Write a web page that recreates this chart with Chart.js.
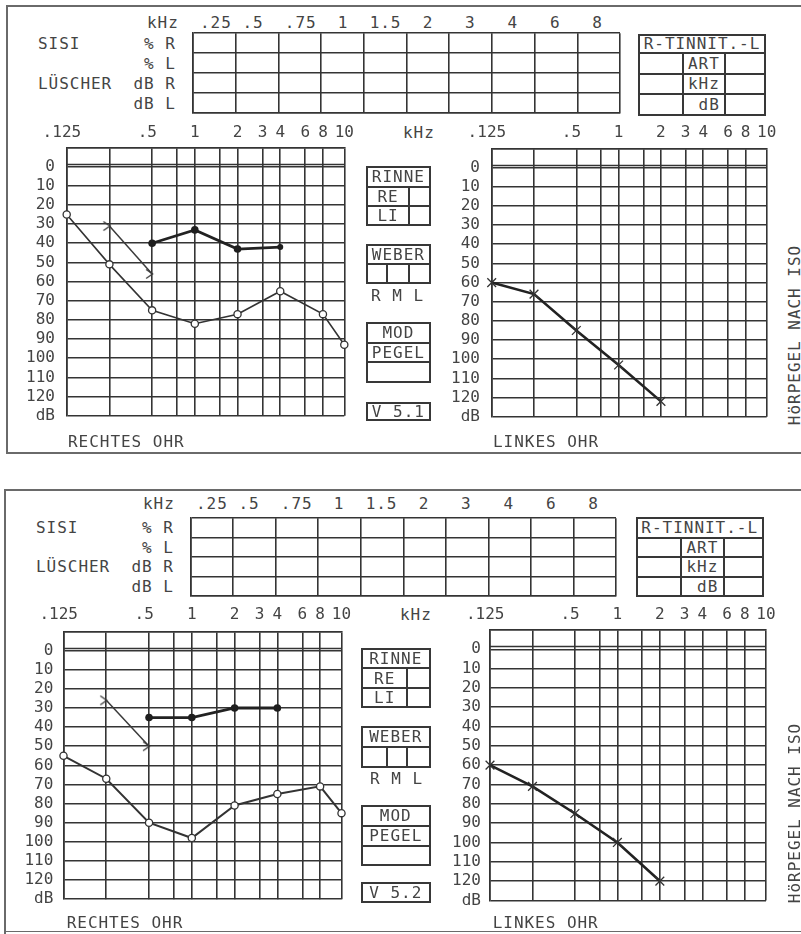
<!DOCTYPE html>
<html>
<head>
<meta charset="utf-8">
<title>Audiogramm</title>
<script src="https://cdn.jsdelivr.net/npm/chart.js@4.4.1/dist/chart.umd.min.js"></script>
<style>
  html, body { margin: 0; padding: 0; background: #fff; }
  #sheet { position: relative; width: 801px; height: 934px; overflow: hidden; background: #fff; }
  #sheet canvas { position: absolute; }
  .txt { position: absolute; font-family: "DejaVu Sans Mono", monospace; font-size: 16px; line-height: 16px;
         letter-spacing: 0.97px; color: #444; white-space: pre; }
  .ln { position: absolute; background: #383838; }
  .frame { position: absolute; background: #6a6a6a; }
</style>
</head>
<body>
<div id="sheet"></div>
<script>
// ---------- audiogram grid ----------
const gridFreqs  = [0.125, 0.25, 0.5, 0.75, 1, 1.5, 2, 3, 4, 6, 8, 10];
const gridLabels = ['.125 ', '', '.5 ', '', '1', '', '2', '3', '4', '6', '8', '10'];
const dbTicks    = [-10, 0, 10, 20, 30, 40, 50, 60, 70, 80, 90, 100, 110, 120, 130];

// ---------- measured frequencies (kHz) ----------
const airFreqs    = [0.125, 0.25, 0.5, 1, 2, 4, 8, 10];
const boneFreqs   = [0.25, 0.5];
const maskedFreqs = [0.5, 1, 2, 4];
const leftFreqs   = [0.125, 0.25, 0.5, 1, 2];

// ---------- first sheet (V 5.1), hearing level in dB ----------
const rightAir1    = [25, 51, 75, 82, 77, 65, 77, 93];
const rightBone1   = [31, 56];
const rightMasked1 = [40, 33, 43, 42];
const leftAir1     = [60, 66, 85, 103, 122];

// ---------- second sheet (V 5.2), hearing level in dB ----------
const rightAir2    = [55, 67, 90, 98, 81, 75, 71, 85];
const rightBone2   = [26, 50];
const rightMasked2 = [35, 35, 30, 30];
const leftAir2     = [60, 71, 85, 100, 120];

// ---------- form texts ----------
const sisiHeader = 'kHz  .25 .5  .75  1  1.5  2   3   4   6   8';
const sisiRows   = ['SISI      % R', '          % L', 'LÜSCHER  dB R', '         dB L'];

const INK = '#343434';
const sheet = document.getElementById('sheet');
Chart.defaults.font.family = '"DejaVu Sans Mono", monospace';

// ---------- small drawing helpers for the printed form ----------
function text(str, x, y, align, extra) {
  const d = document.createElement('div');
  d.className = 'txt';
  d.textContent = str;
  d.style.left = x + 'px';
  d.style.top = (y - 7.7) + 'px';
  if (align === 'center') d.style.transform = 'translateX(-50%)';
  if (extra) Object.assign(d.style, extra);
  sheet.appendChild(d);
  return d;
}
function hline(x1, x2, y, cls, w) {
  w = w || 2;
  const d = document.createElement('div');
  d.className = cls || 'ln';
  d.style.left = (x1 - w / 2) + 'px'; d.style.top = (y - w / 2) + 'px';
  d.style.width = (x2 - x1 + w) + 'px'; d.style.height = w + 'px';
  sheet.appendChild(d);
}
function vline(x, y1, y2, cls, w) {
  w = w || 2;
  const d = document.createElement('div');
  d.className = cls || 'ln';
  d.style.left = (x - w / 2) + 'px'; d.style.top = (y1 - w / 2) + 'px';
  d.style.width = w + 'px'; d.style.height = (y2 - y1 + w) + 'px';
  sheet.appendChild(d);
}
function rect(x1, y1, x2, y2) {
  hline(x1, x2, y1); hline(x1, x2, y2); vline(x1, y1, y2); vline(x2, y1, y2);
}

// octave position counted from 125 Hz; the 10 kHz column closes the form half an octave after 8 kHz
function octavePos(f) { return f >= 10 ? 6.5 : Math.log2(f / 0.125); }
function pts(freqs, vals) { return freqs.map((f, i) => ({ x: octavePos(f), y: vals[i] })); }

// bone-conduction marker ">" : glyph sits left of the point, its tip on the frequency line
function chevron() {
  const c = document.createElement('canvas');
  c.width = 16; c.height = 12;
  const g = c.getContext('2d');
  g.strokeStyle = '#3a3a3a'; g.lineWidth = 1.3;
  g.beginPath(); g.moveTo(2, 1.5); g.lineTo(8.5, 6); g.lineTo(2, 10.5); g.stroke();
  return c;
}
const boneMark = chevron();

// double rule between the upper band and the 0 dB line
const zeroRule = {
  id: 'zeroRule',
  beforeDatasetsDraw(chart) {
    const { ctx, chartArea: a, scales: { y } } = chart;
    const py = Math.round(y.getPixelForValue(0)) - 3;
    ctx.save();
    ctx.strokeStyle = INK; ctx.lineWidth = 1.6;
    ctx.beginPath(); ctx.moveTo(a.left, py + 0.5); ctx.lineTo(a.right, py + 0.5); ctx.stroke();
    ctx.restore();
  }
};

function placeCanvas(L, T, R, B, padL, padT, padR, padB) {
  const c = document.createElement('canvas');
  const left = Math.floor(L) - padL, top = Math.floor(T) - padT;
  c.width = Math.ceil(R) + padR - left;
  c.height = Math.ceil(B) + padB - top;
  c.style.left = left + 'px'; c.style.top = top + 'px';
  sheet.appendChild(c);
  return { c, left, top };
}

// one ear of the audiogram
function audiogram(area, labelY, yLabelRight, datasets) {
  const { c, left, top } = placeCanvas(area.L, area.T, area.R, area.B, 62, 32, 18, 16);
  const yW = area.L - left, xH = area.T - top;
  const padR = c.width - (area.R - left), padB = c.height - (area.B - top);
  const font = { family: '"DejaVu Sans Mono", monospace', size: 16 };
  return new Chart(c, {
    type: 'scatter',
    data: { datasets },
    options: {
      responsive: false, animation: false, devicePixelRatio: 1, events: [],
      layout: { padding: { left: 0, top: 0, right: padR, bottom: padB } },
      plugins: { legend: { display: false }, tooltip: { enabled: false } },
      scales: {
        x: {
          type: 'linear', position: 'top', min: 0, max: octavePos(10),
          afterBuildTicks: s => { s.ticks = gridFreqs.map(f => ({ value: octavePos(f) })); },
          afterFit: s => { s.height = xH; },
          ticks: { autoSkip: false, maxRotation: 0, minRotation: 0, color: '#444', font,
                   padding: area.T - labelY - 9.6, callback: (v, i) => gridLabels[i] },
          grid: { color: INK, lineWidth: 1.6, drawTicks: false },
          border: { color: INK, width: 1.6 }
        },
        y: {
          type: 'linear', position: 'left', reverse: true, min: -10, max: 130,
          afterBuildTicks: s => { s.ticks = dbTicks.map(v => ({ value: v })); },
          afterFit: s => { s.width = yW; },
          ticks: { autoSkip: false, color: '#444', font, padding: area.L - yLabelRight,
                   callback: v => (v === 130 ? 'dB' : v < 0 ? '' : String(v)) },
          grid: { color: INK, lineWidth: 1.6, drawTicks: false },
          border: { color: INK, width: 1.6 }
        }
      }
    },
    plugins: [zeroRule]
  });
}

function rightEar(air, bone, masked, airWidth, maskedRadius) {
  return [
    { data: pts(maskedFreqs, masked), showLine: true, clip: false,
      borderColor: '#222', borderWidth: 2.8,
      pointStyle: 'circle', pointRadius: maskedRadius, pointBackgroundColor: '#1e1e1e', pointBorderWidth: 0 },
    { data: pts(boneFreqs, bone), showLine: true, clip: false,
      borderColor: '#3a3a3a', borderWidth: 1.5, pointStyle: boneMark, pointRadius: 5 },
    { data: pts(airFreqs, air), showLine: true, clip: false,
      borderColor: '#333', borderWidth: airWidth,
      pointStyle: 'circle', pointRadius: 3.6, pointBackgroundColor: '#fff',
      pointBorderColor: '#333', pointBorderWidth: 1.3 }
  ];
}
function leftEar(vals) {
  return [
    { data: pts(leftFreqs, vals), showLine: true, clip: false,
      borderColor: '#222', borderWidth: 2.6,
      pointStyle: 'crossRot', pointRadius: 6.2, pointBorderColor: '#333', pointBorderWidth: 1.3 }
  ];
}

// empty SISI / Lüscher form grid
function formGrid(L, T, R, B, cols, rows) {
  const { c, left, top } = placeCanvas(L, T, R, B, 3, 3, 3, 3);
  const pad = { left: L - left, top: T - top, right: c.width - (R - left), bottom: c.height - (B - top) };
  const axis = (n, horiz) => ({
    type: 'linear', min: 0, max: n,
    afterBuildTicks: s => { s.ticks = Array.from({ length: n + 1 }, (_, i) => ({ value: i })); },
    afterFit: s => { if (horiz) s.height = 0; else s.width = 0; },
    ticks: { display: false },
    grid: { color: INK, lineWidth: 1.6, drawTicks: false },
    border: { color: INK, width: 1.6 }
  });
  return new Chart(c, {
    type: 'scatter',
    data: { datasets: [] },
    options: {
      responsive: false, animation: false, devicePixelRatio: 1, events: [],
      layout: { padding: pad },
      plugins: { legend: { display: false }, tooltip: { enabled: false } },
      scales: { x: axis(cols, true), y: axis(rows, false) }
    }
  });
}

function tinnitusTable(x1, y1, x2, y2, rowYs, colXs) {
  rect(x1, y1, x2, y2);
  rowYs.forEach(y => hline(x1, x2, y));
  colXs.forEach(x => vline(x, rowYs[0], y2));
  const mid = (colXs[0] + colXs[1]) / 2;
  text('R-TINNIT.-L', (x1 + x2) / 2, (y1 + rowYs[0]) / 2, 'center');
  text('ART', mid, (rowYs[0] + rowYs[1]) / 2, 'center');
  text('kHz', mid, (rowYs[1] + rowYs[2]) / 2, 'center');
  text(' dB', mid, (rowYs[2] + y2) / 2, 'center');
}

function sideBoxes(x1, x2, g, version) {
  // RINNE
  rect(x1, g.rinne[0], x2, g.rinne[3]);
  hline(x1, x2, g.rinne[1]); hline(x1, x2, g.rinne[2]);
  vline(g.split, g.rinne[1], g.rinne[3]);
  text('RINNE', (x1 + x2) / 2, (g.rinne[0] + g.rinne[1]) / 2, 'center');
  text('RE', (x1 + g.split) / 2, (g.rinne[1] + g.rinne[2]) / 2, 'center');
  text('LI', (x1 + g.split) / 2, (g.rinne[2] + g.rinne[3]) / 2, 'center');
  // WEBER
  rect(x1, g.weber[0], x2, g.weber[2]);
  hline(x1, x2, g.weber[1]);
  vline(g.weberSplit, g.weber[1], g.weber[2]); vline(g.split, g.weber[1], g.weber[2]);
  text('WEBER', (x1 + x2) / 2, (g.weber[0] + g.weber[1]) / 2, 'center');
  text('R M L', g.rml[0], g.rml[1]);
  // MOD / PEGEL
  rect(x1, g.mod[0], x2, g.mod[3]);
  hline(x1, x2, g.mod[1]); hline(x1, x2, g.mod[2]);
  text('MOD', (x1 + x2) / 2, (g.mod[0] + g.mod[1]) / 2, 'center');
  text('PEGEL', (x1 + x2) / 2, (g.mod[1] + g.mod[2]) / 2, 'center');
  // version
  rect(x1, g.ver[0], x2, g.ver[1]);
  text(version, (x1 + x2) / 2, (g.ver[0] + g.ver[1]) / 2, 'center');
}

function isoLabel(x, y) {
  text('HöRPEGEL NACH ISO', x, y, null, { transform: 'translate(-50%, -50%) rotate(-90deg)', top: y + 'px' });
}

// ================= first sheet =================
hline(7, 801, 6, 'frame', 1.5); vline(7, 6, 453, 'frame', 1.5); hline(7, 801, 453, 'frame', 1.5);
text(sisiHeader, 147, 22.7);
[43.3, 63.3, 83.3, 103.3].forEach((y, i) => text(sisiRows[i], 38, y));
formGrid(193, 33.3, 620, 112.7, 10, 4);
tinnitusTable(639, 35, 765, 115, [53.3, 74, 94.3], [682.7, 725]);
text('kHz', 403, 133);
audiogram({ L: 66.7, R: 344.3, T: 147.5, B: 421 }, 133, 55,
          rightEar(rightAir1, rightBone1, rightMasked1, 1.6, [3.8, 3.8, 3.8, 3]));
audiogram({ L: 491.7, R: 766.7, T: 148.5, B: 421.5 }, 133, 480, leftEar(leftAir1));
text('RECHTES OHR', 68, 442);
text('LINKES OHR', 493, 442);
sideBoxes(366.7, 430, {
  rinne: [167.3, 186.7, 206, 225], split: 409.3,
  weber: [245, 264, 283.3], weberSplit: 387.3, rml: [371, 295.7],
  mod: [323.3, 342.7, 361.7, 381.7], ver: [402.7, 420]
}, 'V 5.1');
isoLabel(795, 335);

// ================= second sheet =================
hline(5, 801, 490, 'frame', 1.5); vline(5, 490, 934, 'frame', 1.5); hline(5, 801, 931.5, 'frame', 1.5);
text(sisiHeader, 143, 503.3);
[528, 547.5, 567, 586.3].forEach((y, i) => text(sisiRows[i], 36, y));
formGrid(190.7, 518.3, 616, 596, 10, 4);
tinnitusTable(636.7, 518.3, 762.7, 596, [537.7, 557.3, 576.7], [680.7, 724]);
text('kHz', 400, 615);
audiogram({ L: 63.5, R: 341.5, T: 631.5, B: 903 }, 615, 53.3,
          rightEar(rightAir2, rightBone2, rightMasked2, 2, 3.8));
audiogram({ L: 490, R: 766, T: 630, B: 903 }, 615, 481, leftEar(leftAir2));
text('RECHTES OHR', 66.7, 922.7);
text('LINKES OHR', 492.7, 922.7);
sideBoxes(362, 429.5, {
  rinne: [649.3, 668.3, 688.3, 707.3], split: 407.3,
  weber: [727.3, 746.7, 766.7], weberSplit: 386.7, rml: [370, 778.3],
  mod: [806, 825.7, 845.7, 865], ver: [883.3, 901.7]
}, 'V 5.2');
isoLabel(795, 813);
</script>
</body>
</html>
